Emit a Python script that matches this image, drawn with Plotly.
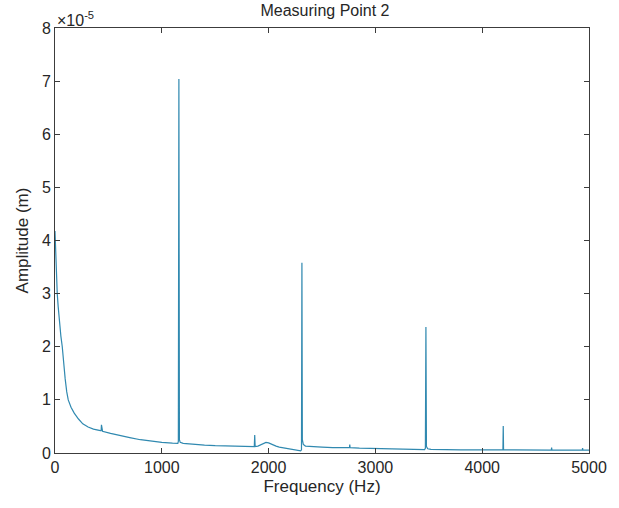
import plotly.graph_objects as go

# Frequency (Hz) and amplitude (in units of 1e-5 m)
freq = [0, 5, 10, 21, 30, 40, 55, 68, 80, 95, 110, 124, 150, 180, 220, 260, 310, 360,
        425, 432, 435, 438, 445, 520, 600, 700, 800, 900, 1000, 1100, 1150, 1155,
        1160, 1165, 1172, 1200, 1300, 1400, 1500, 1600, 1700, 1800, 1866, 1870, 1874,
        1900, 1940, 1975, 2000, 2030, 2070, 2100, 2150, 2200, 2260, 2300, 2308,
        2312, 2316, 2325, 2345, 2400, 2500, 2600, 2700, 2757, 2760, 2763, 2850,
        3000, 3100, 3200, 3300, 3400, 3460, 3468, 3473, 3478, 3490, 3520, 3600,
        3800, 4000, 4100, 4194, 4197, 4200, 4300, 4500, 4647, 4650, 4653, 4800,
        4937, 4940, 4943, 5000]
amp = [4.18, 3.85, 3.55, 3.00, 2.75, 2.50, 2.20, 2.00, 1.70, 1.40, 1.15, 1.00, 0.86, 0.75, 0.64, 0.55, 0.49, 0.45,
       0.42, 0.42, 0.53, 0.42, 0.41, 0.37, 0.33, 0.29, 0.25, 0.22, 0.20, 0.185, 0.18, 0.22,
       7.04, 0.25, 0.20, 0.18, 0.16, 0.15, 0.14, 0.135, 0.13, 0.12, 0.12, 0.34, 0.12,
       0.13, 0.16, 0.20, 0.19, 0.16, 0.13, 0.11, 0.09, 0.08, 0.06, 0.04, 0.06,
       3.58, 0.25, 0.16, 0.13, 0.12, 0.11, 0.10, 0.10, 0.10, 0.16, 0.10, 0.09,
       0.085, 0.08, 0.075, 0.07, 0.065, 0.065, 0.09, 2.37, 0.12, 0.08, 0.07, 0.065,
       0.06, 0.06, 0.06, 0.06, 0.51, 0.06, 0.06, 0.055, 0.055, 0.10, 0.055, 0.055,
       0.055, 0.09, 0.055, 0.055]

x_ticks = [0, 1000, 2000, 3000, 4000, 5000]
y_ticks = [0, 1, 2, 3, 4, 5, 6, 7, 8]

font = "Liberation Sans, Arial, Helvetica, sans-serif"
txt = "#262626"

fig = go.Figure()
fig.add_trace(go.Scatter(x=freq, y=amp, mode="lines",
                         line=dict(color="#3089b0", width=1.2),
                         showlegend=False, hoverinfo="x+y"))

axis_common = dict(showgrid=False, zeroline=False, showline=True, mirror="ticks",
                   linecolor="#3c3c3c", linewidth=1, ticks="inside", ticklen=5,
                   tickcolor="#3c3c3c", tickfont=dict(family=font, size=16, color=txt))

fig.update_layout(
    width=619, height=508,
    margin=dict(l=55, r=22, t=28, b=55),
    paper_bgcolor="white", plot_bgcolor="white",
    title=dict(text="Measuring Point 2", x=0.525, xanchor="center", y=0.99, yanchor="top",
               font=dict(family=font, size=16, color=txt)),
    xaxis=dict(range=[0, 5000], tickvals=x_ticks, ticktext=[str(v) for v in x_ticks],
               title=dict(text="Frequency (Hz)", font=dict(family=font, size=17, color=txt),
                          standoff=4),
               **axis_common),
    yaxis=dict(range=[0, 8], tickvals=y_ticks, ticktext=[str(v) for v in y_ticks],
               title=dict(text="Amplitude (m)", font=dict(family=font, size=17, color=txt),
                          standoff=8),
               **axis_common),
    annotations=[dict(text="×10<sup>-5</sup>", xref="paper", yref="paper", x=0.0, y=1.0,
                      xanchor="left", yanchor="bottom", showarrow=False,
                      font=dict(family=font, size=16, color=txt), yshift=-3)],
)

fig.write_html("out.html", config={"displayModeBar": False},
               post_script="document.body.style.margin='0px';document.body.style.overflow='hidden';")
